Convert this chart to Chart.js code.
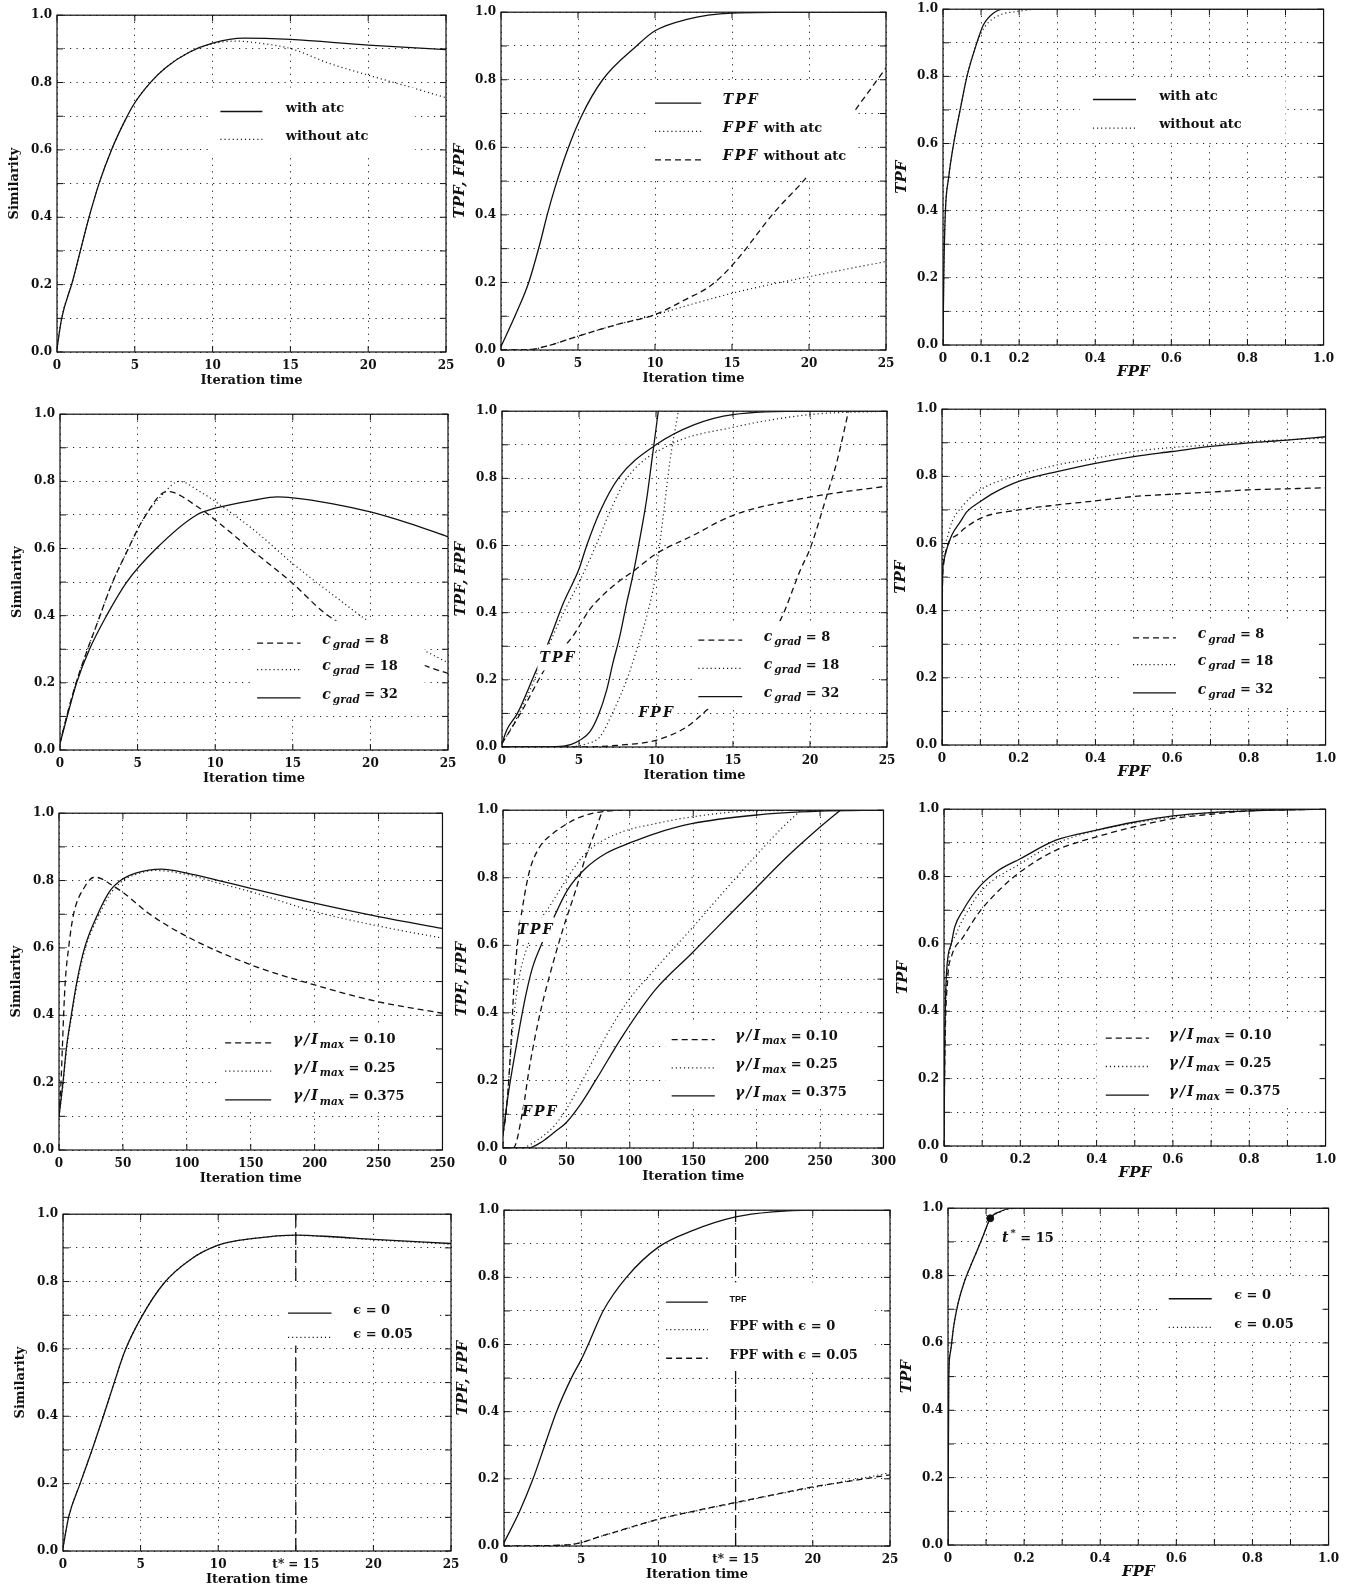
<!DOCTYPE html>
<html>
<head>
<meta charset="utf-8">
<script src="https://cdn.jsdelivr.net/npm/chart.js@4.4.0/dist/chart.umd.min.js"></script>
<style>
html, body { margin: 0; padding: 0; background: #fff; overflow: hidden; }
#page { position: relative; width: 1347px; height: 1587px; }
canvas { position: absolute; }
</style>
</head>
<body>
<div id="page"></div>
<script>
// ---- tick values and labels ----
const tGrid = [0, 5, 10, 15, 20, 25];
const tLabels = ['0', '5', '10', '15', '20', '25'];
const tStarLabels = ['0', '5', '10', 't* = 15', '20', '25'];
const longGrid = [0, 50, 100, 150, 200, 250, 300];
const simLongLabels = ['0', '50', '100', '150', '200', '250', '250'];
const fpfLongLabels = ['0', '50', '100', '150', '200', '250', '300'];
const fracGrid = [0, 0.1, 0.2, 0.3, 0.4, 0.5, 0.6, 0.7, 0.8, 0.9, 1.0];
const fpfLabels = ['0', '', '0.2', '', '0.4', '', '0.6', '', '0.8', '', '1.0'];
const fpfLabelsFine = ['0', '0.1', '0.2', '', '0.4', '', '0.6', '', '0.8', '', '1.0'];
const yLabels = ['0.0', '', '0.2', '', '0.4', '', '0.6', '', '0.8', '', '1.0'];

// ---- legend names ----
const atcNames = ['with atc', 'without atc'];
const rateAtcNames = ['TPF', 'FPF with atc', 'FPF without atc'];
const cgradValues = ['8', '18', '32'];
const gammaValues = ['0.10', '0.25', '0.375'];
const epsValues = ['0', '0.05'];
const rateEpsNames = ['TPF', 'FPF with ϵ = 0', 'FPF with ϵ = 0.05'];

// ---- row 1: adaptive threshold control ----
const p1WithT = [0, 0.3, 1, 1.5, 2, 2.7, 3.5, 4.4, 5, 6, 7, 8.5, 10, 12, 15, 20, 25];
const p1WithS = [0.01, 0.1, 0.21, 0.3, 0.39, 0.5, 0.6, 0.69, 0.74, 0.8, 0.845, 0.89, 0.917, 0.932, 0.928, 0.911, 0.898];
const p1NoT = [0, 0.3, 1, 1.5, 2, 2.7, 3.5, 4.4, 5, 6, 7, 8.5, 10, 11.5, 13, 15, 17.5, 20, 22.5, 25];
const p1NoS = [0.01, 0.1, 0.21, 0.3, 0.39, 0.5, 0.6, 0.69, 0.74, 0.8, 0.845, 0.89, 0.915, 0.923, 0.917, 0.901, 0.857, 0.822, 0.789, 0.755];

const p2TpfT = [0, 1, 1.8, 2.5, 3, 3.5, 4.3, 5.2, 6.6, 8.8, 10, 12, 15, 20, 25];
const p2TpfV = [0.01, 0.11, 0.2, 0.31, 0.4, 0.48, 0.59, 0.69, 0.8, 0.9, 0.945, 0.978, 0.997, 1, 1];
const p2FpfAtcT = [0, 2, 3, 5, 7.5, 10, 12.5, 15, 17.5, 20, 22.5, 25];
const p2FpfAtcV = [0, 0.002, 0.012, 0.041, 0.075, 0.104, 0.137, 0.168, 0.194, 0.217, 0.24, 0.262];
const p2FpfNoT = [0, 2, 3, 5, 7.5, 10, 12, 13.6, 15, 17.7, 20, 23, 25];
const p2FpfNoV = [0, 0.002, 0.012, 0.041, 0.075, 0.105, 0.15, 0.19, 0.25, 0.405, 0.52, 0.71, 0.835];

const p3WithF = [0, 0.002, 0.006, 0.015, 0.028, 0.045, 0.063, 0.089, 0.106, 0.132, 0.16, 0.3, 1.0];
const p3WithT = [0, 0.2, 0.39, 0.5, 0.6, 0.7, 0.8, 0.9, 0.953, 0.988, 1, 1, 1];
const p3NoF = [0, 0.002, 0.006, 0.015, 0.028, 0.045, 0.063, 0.089, 0.11, 0.15, 0.194, 0.25, 1.0];
const p3NoT = [0, 0.2, 0.39, 0.5, 0.6, 0.7, 0.8, 0.9, 0.948, 0.983, 0.993, 1, 1];

// ---- row 2: c_grad ----
const p4C8T = [0, 0.43, 0.97, 1.7, 2.5, 3.3, 4.3, 5.4, 6.9, 9, 10, 12.5, 15, 17, 20, 22, 23.7, 25];
const p4C8S = [0.02, 0.1, 0.19, 0.29, 0.39, 0.49, 0.59, 0.69, 0.77, 0.72, 0.685, 0.59, 0.496, 0.41, 0.325, 0.28, 0.248, 0.228];
const p4C18T = [0, 0.43, 0.97, 1.7, 2.5, 3.3, 4.3, 5.4, 6.5, 7.7, 9, 10, 12.5, 15, 17.5, 20, 22, 23.6, 25];
const p4C18S = [0.02, 0.1, 0.19, 0.29, 0.39, 0.49, 0.59, 0.69, 0.755, 0.8, 0.77, 0.74, 0.655, 0.555, 0.465, 0.38, 0.33, 0.293, 0.26];
const p4C32T = [0, 0.43, 1.07, 1.9, 3, 4.3, 6.2, 8.8, 10, 12.5, 14, 15, 17.5, 20, 22.5, 25];
const p4C32S = [0.02, 0.094, 0.2, 0.3, 0.4, 0.5, 0.6, 0.7, 0.72, 0.744, 0.754, 0.751, 0.734, 0.709, 0.675, 0.635];

const p5TpfC8T = [0, 1.25, 2.9, 4.6, 5.7, 6.5, 7.5, 8.6, 10, 12.4, 15, 20, 25];
const p5TpfC8V = [0.01, 0.104, 0.24, 0.33, 0.41, 0.45, 0.49, 0.526, 0.575, 0.63, 0.69, 0.744, 0.777];
const p5TpfC18T = [0, 1, 2.1, 3, 4, 5, 6.1, 7, 8.1, 10.9, 15, 20, 25];
const p5TpfC18V = [0.01, 0.09, 0.2, 0.3, 0.4, 0.49, 0.6, 0.7, 0.8, 0.9, 0.952, 0.99, 1];
const p5TpfC32T = [0, 0.3, 1, 2.1, 3, 4, 5, 5.5, 6.35, 7.55, 10, 12.5, 15, 20, 25];
const p5TpfC32V = [0.01, 0.05, 0.1, 0.215, 0.31, 0.43, 0.53, 0.6, 0.7, 0.8, 0.9, 0.96, 0.99, 1, 1];
const p5FpfC8T = [0, 5, 7.5, 10, 12, 13.3, 15, 16.5, 18.1, 19.4, 20, 21.1, 21.75, 22.5];
const p5FpfC8V = [0, 0, 0.005, 0.02, 0.06, 0.11, 0.18, 0.27, 0.38, 0.53, 0.59, 0.75, 0.85, 1.0];
const p5FpfC18T = [0, 4.5, 5.5, 6.35, 7.2, 8.1, 8.75, 9.4, 9.93, 10.5, 10.9, 11.45];
const p5FpfC18V = [0, 0.001, 0.01, 0.03, 0.104, 0.2, 0.29, 0.39, 0.5, 0.7, 0.85, 1.0];
const p5FpfC32T = [0, 3.5, 4.5, 5.05, 5.7, 6.25, 6.8, 7.2, 7.65, 8.1, 8.4, 8.75, 9.07, 9.4, 9.72, 10.15];
const p5FpfC32V = [0, 0.001, 0.008, 0.02, 0.045, 0.094, 0.17, 0.25, 0.33, 0.43, 0.49, 0.57, 0.65, 0.74, 0.85, 1.0];

const p6C8F = [0, 0.001, 0.003, 0.013, 0.04, 0.1, 0.2, 0.3, 0.4, 0.5, 0.6, 0.7, 0.8, 0.9, 1.0];
const p6C8T = [0, 0.45, 0.526, 0.59, 0.626, 0.675, 0.70, 0.715, 0.727, 0.74, 0.747, 0.753, 0.76, 0.763, 0.766];
const p6C18F = [0, 0.001, 0.009, 0.026, 0.056, 0.1, 0.2, 0.3, 0.4, 0.5, 0.6, 0.7, 0.8, 0.9, 1.0];
const p6C18T = [0, 0.5, 0.606, 0.665, 0.715, 0.76, 0.804, 0.834, 0.854, 0.874, 0.886, 0.894, 0.904, 0.909, 0.914];
const p6C32F = [0, 0.001, 0.004, 0.013, 0.026, 0.048, 0.065, 0.1, 0.134, 0.2, 0.3, 0.4, 0.5, 0.6, 0.7, 0.8, 0.9, 1.0];
const p6C32T = [0, 0.47, 0.546, 0.586, 0.626, 0.665, 0.695, 0.725, 0.75, 0.785, 0.814, 0.839, 0.859, 0.874, 0.889, 0.9, 0.908, 0.918];

// ---- row 3: gamma / I_max ----
const p7G10T = [0, 1.55, 2.6, 3.6, 4.9, 7.5, 11.4, 19.9, 27.7, 33, 39, 50, 70, 100, 150, 200, 250, 300];
const p7G10S = [0.1, 0.2, 0.3, 0.4, 0.5, 0.6, 0.7, 0.78, 0.81, 0.806, 0.792, 0.765, 0.703, 0.634, 0.55, 0.49, 0.44, 0.406];
const p7G25T = [0, 3.3, 6, 10, 14.5, 20.7, 31.6, 40, 50, 60, 75, 100, 125, 150, 200, 250, 300];
const p7G25S = [0.1, 0.2, 0.3, 0.4, 0.5, 0.6, 0.7, 0.76, 0.8, 0.818, 0.83, 0.818, 0.792, 0.767, 0.708, 0.665, 0.629];
const p7G375T = [0, 3.1, 5.7, 9.6, 14, 20, 30.3, 40, 50, 60, 80, 100, 125, 150, 200, 250, 300];
const p7G375S = [0.1, 0.2, 0.3, 0.4, 0.5, 0.6, 0.7, 0.77, 0.805, 0.822, 0.834, 0.822, 0.8, 0.777, 0.733, 0.693, 0.658];

const p8TpfG10T = [0, 2.6, 5.7, 9.1, 11.7, 15.7, 20.9, 28.7, 39, 49.6, 62.6, 81, 100, 300];
const p8TpfG10V = [0.04, 0.11, 0.27, 0.507, 0.615, 0.72, 0.82, 0.89, 0.93, 0.958, 0.982, 0.997, 1, 1];
const p8TpfG25T = [0, 3, 6.5, 9.5, 13, 18.3, 26, 36.5, 49.6, 62.6, 73, 94, 120, 148.7, 198, 300];
const p8TpfG25V = [0.04, 0.13, 0.3, 0.42, 0.51, 0.586, 0.655, 0.714, 0.793, 0.862, 0.897, 0.936, 0.96, 0.98, 0.998, 1];
const p8TpfG375T = [0, 3.9, 10.4, 15.7, 19.6, 23.5, 31.3, 40.4, 50.9, 65.2, 81, 102, 120, 148.7, 198, 250, 300];
const p8TpfG375V = [0.04, 0.153, 0.3, 0.41, 0.48, 0.537, 0.611, 0.685, 0.764, 0.828, 0.872, 0.906, 0.931, 0.96, 0.985, 0.997, 1];
const p8FpfG10T = [0, 8, 15.7, 20.9, 28.7, 36.5, 47, 57.4, 65.2, 73, 78.3, 80];
const p8FpfG10V = [0, 0, 0.113, 0.24, 0.39, 0.507, 0.645, 0.764, 0.862, 0.94, 0.995, 1.0];
const p8FpfG25T = [0, 15, 23.5, 39, 49.6, 62.6, 81, 99, 120, 150, 172, 198, 222, 235];
const p8FpfG25V = [0, 0, 0.015, 0.06, 0.113, 0.2, 0.33, 0.438, 0.53, 0.655, 0.75, 0.86, 0.955, 1.0];
const p8FpfG375T = [0, 20, 31.3, 41.7, 49.6, 60, 73, 94, 120, 148.7, 172, 198, 224, 250, 266];
const p8FpfG375V = [0, 0, 0.02, 0.05, 0.074, 0.123, 0.2, 0.33, 0.468, 0.576, 0.665, 0.764, 0.862, 0.95, 1.0];

const p9G10F = [0, 0.002, 0.01, 0.019, 0.05, 0.093, 0.145, 0.2, 0.293, 0.4, 0.5, 0.6, 0.7, 0.8, 1.0];
const p9G10T = [0, 0.25, 0.5, 0.56, 0.62, 0.695, 0.76, 0.814, 0.878, 0.918, 0.948, 0.972, 0.985, 0.995, 1.0];
const p9G25F = [0, 0.002, 0.01, 0.032, 0.058, 0.1, 0.2, 0.293, 0.4, 0.5, 0.6, 0.7, 0.8, 1.0];
const p9G25T = [0, 0.28, 0.522, 0.63, 0.69, 0.76, 0.838, 0.898, 0.937, 0.959, 0.977, 0.99, 0.996, 1.0];
const p9G375F = [0, 0.002, 0.006, 0.019, 0.028, 0.05, 0.093, 0.145, 0.2, 0.293, 0.4, 0.5, 0.6, 0.7, 0.8, 1.0];
const p9G375T = [0, 0.3, 0.502, 0.6, 0.65, 0.70, 0.77, 0.82, 0.853, 0.908, 0.938, 0.962, 0.98, 0.99, 0.995, 1.0];

// ---- row 4: epsilon ----
const tStarX = [15, 15];
const tStarY = [0, 1];
const p10T = [0, 0.37, 1.1, 1.87, 2.6, 3.3, 4, 5, 6.5, 8.2, 10, 12.3, 15, 17.4, 20, 25];
const p10Eps0 = [0.01, 0.102, 0.2, 0.3, 0.4, 0.5, 0.595, 0.69, 0.795, 0.865, 0.908, 0.928, 0.938, 0.933, 0.925, 0.913];
const p10Eps05 = [0.01, 0.102, 0.2, 0.3, 0.4, 0.5, 0.595, 0.69, 0.795, 0.865, 0.908, 0.928, 0.937, 0.932, 0.924, 0.911];

const p11T = [0, 1, 1.88, 2.64, 3.4, 4.36, 5, 5.55, 6.42, 7.93, 10, 12.25, 15, 17.4, 20, 25];
const p11Tpf = [0.01, 0.102, 0.2, 0.3, 0.4, 0.5, 0.555, 0.61, 0.7, 0.8, 0.89, 0.94, 0.98, 0.995, 1.0, 1.0];
const p11FT = [0, 4, 5, 6, 7.5, 10, 12.5, 15, 17.5, 20, 22.5, 25];
const p11FpfEps0 = [0, 0.003, 0.01, 0.025, 0.045, 0.079, 0.105, 0.128, 0.152, 0.174, 0.196, 0.218];
const p11FpfEps05 = [0, 0.003, 0.01, 0.025, 0.046, 0.08, 0.106, 0.13, 0.153, 0.176, 0.194, 0.212];

const p12F = [0, 0.002, 0.006, 0.015, 0.026, 0.041, 0.058, 0.076, 0.093, 0.111, 0.137, 0.172, 0.3, 1.0];
const p12Eps0 = [0, 0.495, 0.57, 0.65, 0.715, 0.775, 0.825, 0.873, 0.92, 0.97, 0.99, 1.0, 1.0, 1.0];
const p12Eps05 = [0, 0.495, 0.57, 0.65, 0.715, 0.775, 0.825, 0.873, 0.92, 0.968, 0.989, 0.999, 1.0, 1.0];
const p12StarF = [0.111];
const p12StarT = [0.97];

// ---- drawing helpers ----
const SERIF = '"DejaVu Serif", "Liberation Serif", serif';
const INK = '#111';
const DASHES = { solid: [], dot: [1.1, 3], dash: [6, 4], tstar: [13, 5] };

function pts(xs, ys) {
    return xs.map((x, i) => ({ x: x, y: ys[i] }));
}

function curve(xs, ys, kind) {
    return {
        data: pts(xs, ys),
        borderColor: INK,
        borderWidth: kind === 'dot' ? 1.2 : 1.3,
        borderDash: DASHES[kind],
        pointRadius: 0,
        fill: false,
        cubicInterpolationMode: 'monotone'
    };
}

function fontFor(k) {
    if (k === 'i') return 'italic bold 14px ' + SERIF;
    if (k === 's') return 'italic bold 10.5px ' + SERIF;
    if (k === 'sup') return 'bold 10px ' + SERIF;
    if (k === 'sans') return 'bold 9px "Liberation Sans Narrow", "Liberation Sans", sans-serif';
    return 'bold 13px ' + SERIF;
}

function richWidth(ctx, segs) {
    let w = 0;
    segs.forEach(([t, k]) => {
        ctx.font = fontFor(k);
        ctx.letterSpacing = k === 'i' ? '2px' : '0px';
        w += ctx.measureText(t).width;
    });
    ctx.letterSpacing = '0px';
    return w;
}

function drawRich(ctx, x, y, segs) {
    ctx.textAlign = 'left';
    ctx.textBaseline = 'middle';
    ctx.fillStyle = INK;
    segs.forEach(([t, k]) => {
        ctx.font = fontFor(k);
        ctx.letterSpacing = k === 'i' ? '2px' : '0px';
        let dy = 0;
        if (k === 's') dy = 5;
        if (k === 'sup') dy = -5;
        ctx.fillText(t, x, y + dy);
        x += ctx.measureText(t).width;
    });
    ctx.letterSpacing = '0px';
}

function rateSegs(n) {
    if (n === 'TPF' || n.indexOf('FPF') === 0) return [[n.slice(0, 3), 'i'], [n.slice(3), '']];
    return [[n, '']];
}

const cgradSegs = cgradValues.map(v => [['c', 'i'], ['grad', 's'], [' = ' + v, '']]);
const gammaSegs = gammaValues.map(v => [['γ/I', 'i'], ['max', 's'], [' = ' + v, '']]);
const epsSegs = epsValues.map(v => [['ϵ = ' + v, '']]);
const plainSegs = atcNames.map(n => [[n, '']]);
const atcRateSegs = rateAtcNames.map(rateSegs);
const epsRateSegs = [[['TPF', 'sans']], [[rateEpsNames[1], '']], [[rateEpsNames[2], '']]];

function rows(ys, kinds, segs) {
    return ys.map((y, i) => ({ y: y, kind: kinds[i], segs: segs[i] }));
}

const specs = {};

const panels = [
    { id: 'p1', rect: [57, 15, 446, 352], xr: [0, 25], xv: tGrid, xl: tLabels, xt: 'Iteration time', yt: 'Similarity',
      sets: [curve(p1WithT, p1WithS, 'solid'), curve(p1NoT, p1NoS, 'dot')],
      legend: { box: [9.7, 23, 0.585, 0.785], line: [10.5, 13.2], text: 14.7, rows: rows([0.723, 0.64], ['solid', 'dot'], plainSegs) } },
    { id: 'p2', rect: [501, 12, 886, 350], xr: [0, 25], xv: tGrid, xl: tLabels, xt: 'Iteration time', yt: 'TPF, FPF', yi: true,
      sets: [curve(p2TpfT, p2TpfV, 'solid'), curve(p2FpfAtcT, p2FpfAtcV, 'dot'), curve(p2FpfNoT, p2FpfNoV, 'dash')],
      legend: { box: [9.5, 23, 0.515, 0.79], line: [10, 13], text: 14.4, rows: rows([0.74, 0.656, 0.572], ['solid', 'dot', 'dash'], atcRateSegs) } },
    { id: 'p3', rect: [943, 9, 1325, 345], xr: [0, 1], xv: fracGrid, xl: fpfLabelsFine, xt: 'FPF', xi: true, yt: 'TPF', yi: true,
      sets: [curve(p3WithF, p3WithT, 'solid'), curve(p3NoF, p3NoT, 'dot')],
      legend: { box: [0.36, 0.9, 0.605, 0.79], line: [0.394, 0.507], text: 0.568, rows: rows([0.74, 0.655], ['solid', 'dot'], plainSegs) } },

    { id: 'p4', rect: [60, 414, 448, 750], xr: [0, 25], xv: tGrid, xl: tLabels, xt: 'Iteration time', yt: 'Similarity',
      sets: [curve(p4C8T, p4C8S, 'dash'), curve(p4C18T, p4C18S, 'dot'), curve(p4C32T, p4C32S, 'solid')],
      legend: { box: [12.3, 23.5, 0.105, 0.385], line: [12.7, 15.5], text: 16.9, rows: rows([0.327, 0.248, 0.164], ['dash', 'dot', 'solid'], cgradSegs) } },
    { id: 'p5', rect: [502, 411, 887, 747], xr: [0, 25], xv: tGrid, xl: tLabels, xt: 'Iteration time', yt: 'TPF, FPF', yi: true,
      sets: [curve(p5TpfC8T, p5TpfC8V, 'dash'), curve(p5TpfC18T, p5TpfC18V, 'dot'), curve(p5TpfC32T, p5TpfC32V, 'solid'),
             curve(p5FpfC8T, p5FpfC8V, 'dash'), curve(p5FpfC18T, p5FpfC18V, 'dot'), curve(p5FpfC32T, p5FpfC32V, 'solid')],
      legend: { box: [12.6, 24, 0.115, 0.375], line: [12.75, 15.6], text: 17.0, rows: rows([0.327, 0.243, 0.159], ['dash', 'dot', 'solid'], cgradSegs) },
      notes: [{ x: 3.64, y: 0.263, segs: [['TPF', 'i']], box: [2.3, 4.95, 0.228, 0.305] },
              { x: 10.04, y: 0.099, segs: [['FPF', 'i']], box: [8.7, 11.4, 0.075, 0.125] }] },
    { id: 'p6', rect: [942, 409, 1327, 745], xr: [0, 1], xv: fracGrid, xl: fpfLabels, xt: 'FPF', xi: true, yt: 'TPF', yi: true,
      sets: [curve(p6C8F, p6C8T, 'dash'), curve(p6C18F, p6C18T, 'dot'), curve(p6C32F, p6C32T, 'solid')],
      legend: { box: [0.47, 0.97, 0.12, 0.37], line: [0.498, 0.61], text: 0.667, rows: rows([0.328, 0.248, 0.164], ['dash', 'dot', 'solid'], cgradSegs) } },

    { id: 'p7', rect: [59, 813, 446, 1150], xr: [0, 300], xv: longGrid, xl: simLongLabels, xt: 'Iteration time', yt: 'Similarity',
      sets: [curve(p7G10T, p7G10S, 'dash'), curve(p7G25T, p7G25S, 'dot'), curve(p7G375T, p7G375S, 'solid')],
      legend: { box: [125, 293, 0.115, 0.37], line: [130, 166], text: 183, rows: rows([0.327, 0.243, 0.158], ['dash', 'dot', 'solid'], gammaSegs) } },
    { id: 'p8', rect: [503, 810, 887, 1148], xr: [0, 300], xv: longGrid, xl: fpfLongLabels, xt: 'Iteration time', yt: 'TPF, FPF', yi: true,
      sets: [curve(p8TpfG10T, p8TpfG10V, 'dash'), curve(p8TpfG25T, p8TpfG25V, 'dot'), curve(p8TpfG375T, p8TpfG375V, 'solid'),
             curve(p8FpfG10T, p8FpfG10V, 'dash'), curve(p8FpfG25T, p8FpfG25V, 'dot'), curve(p8FpfG375T, p8FpfG375V, 'solid')],
      legend: { box: [128, 293, 0.12, 0.37], line: [133, 167], text: 183, rows: rows([0.33, 0.246, 0.163], ['dash', 'dot', 'solid'], gammaSegs) },
      notes: [{ x: 26, y: 0.645, segs: [['TPF', 'i']], box: [13.5, 40.5, 0.61, 0.683] },
              { x: 29.3, y: 0.105, segs: [['FPF', 'i']], box: [16, 43.5, 0.08, 0.13] }] },
    { id: 'p9', rect: [944, 809, 1327, 1146], xr: [0, 1], xv: fracGrid, xl: fpfLabels, xt: 'FPF', xi: true, yt: 'TPF', yi: true,
      sets: [curve(p9G10F, p9G10T, 'dash'), curve(p9G25F, p9G25T, 'dot'), curve(p9G375F, p9G375T, 'solid')],
      legend: { box: [0.4, 0.98, 0.12, 0.37], line: [0.424, 0.537], text: 0.589, rows: rows([0.329, 0.245, 0.16], ['dash', 'dot', 'solid'], gammaSegs) } },

    { id: 'p10', rect: [63, 1214, 451, 1551], xr: [0, 25], xv: tGrid, xl: tStarLabels, xt: 'Iteration time', yt: 'Similarity',
      sets: [curve(p10T, p10Eps0, 'solid'), curve(p10T, p10Eps05, 'dot'),
             Object.assign(curve(tStarX, tStarY, 'tstar'), { cubicInterpolationMode: 'default', tension: 0 })],
      legend: { box: [14.2, 24, 0.61, 0.785], line: [14.5, 17.3], text: 18.7, rows: rows([0.715, 0.643], ['solid', 'dot'], epsSegs) } },
    { id: 'p11', rect: [504, 1210, 890, 1546], xr: [0, 25], xv: tGrid, xl: tStarLabels, xt: 'Iteration time', yt: 'TPF, FPF', yi: true,
      sets: [curve(p11T, p11Tpf, 'solid'), curve(p11FT, p11FpfEps0, 'dot'), curve(p11FT, p11FpfEps05, 'dash'),
             Object.assign(curve(tStarX, tStarY, 'tstar'), { cubicInterpolationMode: 'default', tension: 0 })],
      legend: { box: [10.1, 24, 0.53, 0.785], line: [10.5, 13.2], text: 14.6, rows: rows([0.735, 0.653, 0.568], ['solid', 'dot', 'dash'], epsRateSegs) } },
    { id: 'p12', rect: [948, 1208, 1330, 1545], xr: [0, 1], xv: fracGrid, xl: fpfLabels, xt: 'FPF', xi: true, yt: 'TPF', yi: true,
      sets: [curve(p12F, p12Eps0, 'solid'), curve(p12F, p12Eps05, 'dot'),
             { data: pts(p12StarF, p12StarT), showLine: false, pointRadius: 3.5, pointBackgroundColor: INK, pointBorderColor: INK }],
      legend: { box: [0.55, 0.98, 0.61, 0.79], line: [0.58, 0.693], text: 0.752, rows: rows([0.74, 0.655], ['solid', 'dot'], epsSegs) },
      notes: [{ x: 0.21, y: 0.91, segs: [['t', 'i'], ['*', 'sup'], [' = 15', '']], box: [0.13, 0.29, 0.885, 0.94] }] }
];

// legend boxes, in-plot labels, frame and inner tick marks
const decoPlugin = {
    id: 'deco',
    afterDatasetsDraw(chart) {
        const spec = specs[chart.canvas.id];
        const ctx = chart.ctx;
        const a = chart.chartArea;
        const xs = chart.scales.x, ys = chart.scales.y;
        const px = v => xs.getPixelForValue(v);
        const py = v => ys.getPixelForValue(v);
        ctx.save();
        const lg = spec.legend;
        if (lg) {
            ctx.fillStyle = '#fff';
            ctx.fillRect(px(lg.box[0]), py(lg.box[3]), px(lg.box[1]) - px(lg.box[0]), py(lg.box[2]) - py(lg.box[3]));
            lg.rows.forEach(r => {
                const y = py(r.y);
                ctx.strokeStyle = INK;
                ctx.lineWidth = 1.3;
                ctx.setLineDash(DASHES[r.kind]);
                ctx.beginPath();
                ctx.moveTo(px(lg.line[0]), y + 3);
                ctx.lineTo(px(lg.line[1]), y + 3);
                ctx.stroke();
                ctx.setLineDash([]);
                drawRich(ctx, px(lg.text), y, r.segs);
            });
        }
        (spec.notes || []).forEach(n => {
            if (n.box) {
                ctx.fillStyle = '#fff';
                ctx.fillRect(px(n.box[0]), py(n.box[3]), px(n.box[1]) - px(n.box[0]), py(n.box[2]) - py(n.box[3]));
            }
            const w = richWidth(ctx, n.segs);
            drawRich(ctx, px(n.x) - w / 2, py(n.y), n.segs);
        });
        ctx.setLineDash([]);
        ctx.strokeStyle = INK;
        ctx.lineWidth = 1;
        ctx.beginPath();
        xs.ticks.forEach(t => {
            const x = px(t.value);
            ctx.moveTo(x, a.bottom); ctx.lineTo(x, a.bottom - 6);
            ctx.moveTo(x, a.top); ctx.lineTo(x, a.top + 6);
        });
        ys.ticks.forEach(t => {
            const y = py(t.value);
            ctx.moveTo(a.left, y); ctx.lineTo(a.left + 6, y);
            ctx.moveTo(a.right, y); ctx.lineTo(a.right - 6, y);
        });
        ctx.stroke();
        ctx.lineWidth = 1.2;
        ctx.strokeRect(a.left, a.top, a.right - a.left, a.bottom - a.top);
        ctx.restore();
    }
};

const tickFont = { family: SERIF, size: 12, weight: 'bold' };
const page = document.getElementById('page');

panels.forEach(p => {
    const [L, T, R, B] = p.rect;
    const c = document.createElement('canvas');
    c.id = p.id;
    c.width = R - L + 76;
    c.height = B - T + 48;
    c.style.left = (L - 60) + 'px';
    c.style.top = (T - 12) + 'px';
    c.style.width = c.width + 'px';
    c.style.height = c.height + 'px';
    page.appendChild(c);
    specs[p.id] = p;

    new Chart(c, {
        type: 'line',
        data: { datasets: p.sets },
        options: {
            responsive: false,
            animation: false,
            devicePixelRatio: 1,
            layout: { padding: { left: 0, top: 12, right: 16, bottom: 0 } },
            plugins: { legend: { display: false }, tooltip: { enabled: false } },
            scales: {
                x: {
                    type: 'linear',
                    min: p.xr[0],
                    max: p.xr[1],
                    afterBuildTicks: s => { s.ticks = p.xv.map(v => ({ value: v })); },
                    afterFit: s => { s.height = 36; },
                    ticks: { autoSkip: false, maxRotation: 0, padding: 7, color: INK, font: tickFont,
                             callback: (v, i) => p.xl[i] },
                    grid: { color: '#222', lineWidth: 1, drawTicks: false },
                    border: { display: false, dash: [1.2, 5.3] },
                    title: { display: true, text: p.xt, color: INK, padding: { top: 0, bottom: 0 },
                             font: { family: SERIF, size: p.xi ? 15 : 13, weight: 'bold', style: p.xi ? 'italic' : 'normal' } }
                },
                y: {
                    type: 'linear',
                    min: 0,
                    max: 1,
                    afterBuildTicks: s => { s.ticks = fracGrid.map(v => ({ value: v })); },
                    afterFit: s => { s.width = 60; },
                    ticks: { autoSkip: false, padding: 5, color: INK, font: tickFont,
                             callback: (v, i) => yLabels[i] },
                    grid: { color: '#222', lineWidth: 1, drawTicks: false },
                    border: { display: false, dash: [1.2, 5.3] },
                    title: { display: true, text: p.yt, color: INK, padding: { top: 10, bottom: 0 },
                             font: { family: SERIF, size: p.yi ? 15 : 13, weight: 'bold', style: p.yi ? 'italic' : 'normal' } }
                }
            }
        },
        plugins: [decoPlugin]
    });
});
</script>
</body>
</html>
